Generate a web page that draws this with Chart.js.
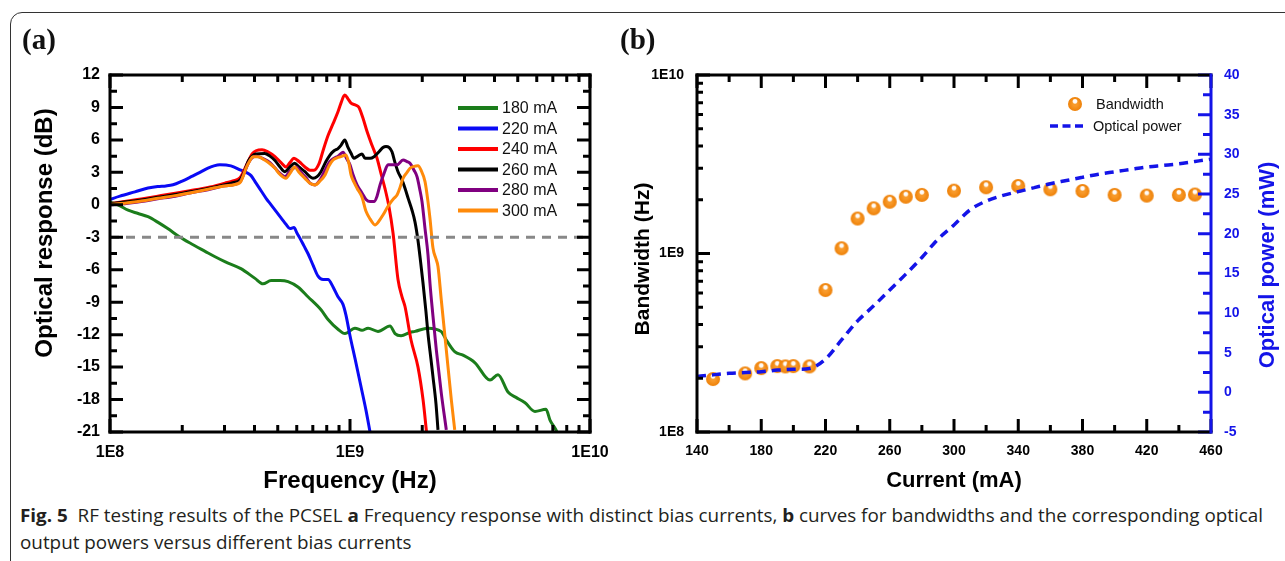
<!DOCTYPE html>
<html>
<head>
<meta charset="utf-8">
<script src="https://cdn.jsdelivr.net/npm/chart.js@4.4.1/dist/chart.umd.min.js"></script>
<style>
html,body{margin:0;padding:0;background:#fff;}
body{width:1285px;height:561px;position:relative;overflow:hidden;}
#frame{position:absolute;left:10px;top:12px;width:1330px;height:620px;border:1px solid #333;border-radius:12px;}
#ca{position:absolute;left:0;top:0;}
#cb{position:absolute;left:620px;top:0;}
.plab{position:absolute;top:25px;font-family:"Liberation Serif","Times New Roman",serif;font-weight:bold;font-size:29px;line-height:1;color:#111;}
#cap{position:absolute;left:20px;top:502px;font-family:"Open Sans",sans-serif;font-size:18px;line-height:27px;color:#231f20;white-space:nowrap;transform-origin:0 0;}
#cap b{font-weight:700;}
#err{position:absolute;left:700px;top:14px;font:11px monospace;color:#c00;white-space:pre;}
</style>
</head>
<body>
<div id="frame"></div>
<canvas id="ca" width="620" height="500"></canvas>
<canvas id="cb" width="665" height="500"></canvas>
<div class="plab" style="left:22px">(a)</div>
<div class="plab" style="left:620px">(b)</div>
<div id="cap"><div id="cap1"><b>Fig. 5</b>&nbsp; RF testing results of the PCSEL <b>a</b> Frequency response with distinct bias currents, <b>b</b> curves for bandwidths and the corresponding optical</div><div>output powers versus different bias currents</div></div>
<div id="err"></div>
<script>
// ---- (a) frequency response, frequency in GHz, response in dB ----
const f180 = [0.100,0.108,0.119,0.131,0.144,0.158,0.174,0.196,0.218,0.249,0.274,0.301,0.351,0.402,0.434,0.469,0.511,0.552,0.607,0.668,0.757,0.810,0.891,0.953,1.049,1.122,1.189,1.308,1.468,1.540,1.632,1.778,1.866,2.113,2.394,2.536,2.738,2.957,3.318,3.831,4.137,4.553,4.917,5.361,5.899,6.556,6.813,7.218,7.356];
const db180 = [0.25,0.0,-0.5,-0.8,-1.1,-1.6,-2.2,-3.0,-3.6,-4.3,-4.8,-5.25,-5.9,-6.8,-7.3,-7.0,-7.0,-7.1,-7.6,-8.5,-9.7,-10.6,-11.5,-11.9,-11.4,-11.6,-11.4,-11.7,-11.2,-11.9,-12.1,-11.8,-11.7,-11.4,-11.7,-12.6,-13.6,-13.9,-14.6,-16.2,-15.7,-17.3,-17.8,-18.3,-19.1,-18.9,-19.9,-20.8,-21.2];

const f220 = [0.100,0.110,0.127,0.144,0.158,0.171,0.183,0.200,0.218,0.237,0.256,0.271,0.287,0.319,0.351,0.369,0.387,0.406,0.426,0.447,0.469,0.492,0.516,0.541,0.562,0.584,0.601,0.619,0.643,0.668,0.702,0.736,0.772,0.810,0.850,0.891,0.935,0.962,1.000,1.049,1.111,1.166,1.212];
const db220 = [0.5,0.8,1.2,1.55,1.7,1.75,1.85,2.2,2.6,3.0,3.4,3.6,3.7,3.6,3.2,3.0,2.7,2.0,1.3,0.6,0.0,-0.6,-1.2,-1.8,-2.2,-2.1,-2.6,-3.1,-3.8,-4.5,-5.6,-6.6,-6.9,-6.9,-7.6,-8.5,-9.2,-10.2,-12.1,-14.2,-16.8,-19.0,-21.0];

const f240 = [0.100,0.115,0.135,0.158,0.187,0.215,0.256,0.301,0.325,0.348,0.362,0.376,0.391,0.406,0.430,0.455,0.487,0.516,0.541,0.562,0.584,0.613,0.649,0.681,0.708,0.743,0.772,0.810,0.850,0.891,0.917,0.951,0.981,1.010,1.059,1.090,1.133,1.177,1.235,1.296,1.346,1.399,1.454,1.511,1.585,1.647,1.695,1.796,1.920,2.015,2.084];
const db240 = [0.1,0.3,0.55,0.8,1.07,1.3,1.6,2.0,2.2,2.5,3.2,4.0,4.7,5.0,5.1,4.9,4.45,3.9,3.5,3.9,4.3,4.0,3.5,3.2,3.2,3.8,5.0,6.4,7.5,8.6,9.4,10.15,9.8,9.4,9.2,9.0,8.0,6.8,5.5,4.3,2.9,1.5,-0.2,-2.6,-6.9,-8.5,-9.4,-12.5,-15.0,-18.0,-21.0];

const f260 = [0.100,0.115,0.135,0.158,0.187,0.215,0.256,0.301,0.325,0.348,0.362,0.376,0.391,0.406,0.441,0.464,0.487,0.511,0.536,0.562,0.588,0.613,0.649,0.681,0.701,0.729,0.757,0.794,0.825,0.858,0.891,0.917,0.951,0.981,1.010,1.039,1.070,1.122,1.155,1.212,1.259,1.321,1.372,1.413,1.454,1.496,1.540,1.585,1.647,1.695,1.753,1.813,1.866,1.920,1.967,2.015,2.073,2.113,2.175,2.217,2.282,2.326];
const db260 = [0.1,0.25,0.45,0.7,0.95,1.2,1.5,1.85,2.05,2.3,3.0,4.0,4.5,4.7,4.75,4.5,4.1,3.5,3.06,3.5,3.84,3.5,3.06,2.6,2.45,2.6,3.06,4.0,4.6,5.0,5.2,5.5,6.0,5.3,4.76,4.3,4.45,4.7,4.3,4.3,4.45,4.9,5.3,5.4,5.3,4.9,3.9,3.06,2.3,1.53,0.5,-0.5,-1.6,-3.3,-5.2,-7.25,-9.9,-11.9,-14.3,-15.9,-18.4,-20.8];

const f280 = [0.100,0.115,0.135,0.158,0.187,0.215,0.256,0.301,0.348,0.362,0.376,0.391,0.406,0.441,0.464,0.487,0.511,0.536,0.562,0.596,0.625,0.656,0.681,0.715,0.750,0.787,0.825,0.858,0.891,0.935,0.972,1.000,1.029,1.070,1.122,1.166,1.212,1.259,1.296,1.334,1.386,1.440,1.496,1.570,1.663,1.728,1.778,1.848,1.902,1.958,1.995,2.054,2.113,2.154,2.217,2.289,2.401,2.519];
const db280 = [0.0,0.1,0.3,0.55,0.8,1.1,1.4,1.75,2.1,2.9,3.8,4.35,4.5,4.2,3.9,3.4,2.9,2.6,3.1,3.5,3.0,2.5,2.0,1.84,2.3,3.2,4.0,4.3,4.5,4.85,4.2,3.7,2.8,1.84,1.1,0.5,0.3,0.3,0.8,1.84,2.9,3.7,3.7,3.7,4.14,4.0,3.84,3.2,2.6,1.3,0.3,-2.2,-4.6,-7.25,-10.3,-13.4,-17.4,-20.8];

const f300 = [0.100,0.115,0.135,0.158,0.187,0.215,0.256,0.301,0.348,0.358,0.369,0.383,0.394,0.414,0.441,0.464,0.486,0.511,0.541,0.562,0.588,0.613,0.649,0.681,0.715,0.750,0.787,0.818,0.850,0.883,0.917,0.962,0.990,1.010,1.039,1.070,1.122,1.166,1.212,1.271,1.321,1.372,1.426,1.468,1.525,1.570,1.616,1.663,1.728,1.778,1.848,1.920,1.977,2.054,2.113,2.154,2.217,2.282,2.326,2.401,2.519,2.643,2.731];
const db300 = [0.05,0.15,0.35,0.6,0.85,1.1,1.44,1.75,2.05,2.6,3.4,4.1,4.45,4.45,4.14,3.8,3.4,2.8,2.45,2.9,3.5,3.0,2.45,2.0,1.84,2.2,2.76,3.6,4.14,4.35,4.45,4.6,3.8,2.76,2.1,1.53,0.7,-0.6,-1.3,-1.86,-1.5,-0.94,-0.3,0.14,0.6,0.9,1.6,2.45,3.0,3.38,3.55,3.6,3.2,2.14,0.3,-1.25,-4.0,-5.0,-5.7,-8.8,-13.4,-18.0,-20.8];

const thresholdDb = -3;
const freqMin = 1e8, freqMax = 1e10;
const decadeValues = [1e8, 1e9, 1e10];
const decadeLabels = ['1E8', '1E9', '1E10'];

// ---- (b) bandwidth and optical power vs current ----
const bwCurrent = [150,170,180,190,195,200,210,220,230,240,250,260,270,280,300,320,340,360,380,400,420,440,450];
const bwHz = [1.98e8,2.13e8,2.28e8,2.34e8,2.33e8,2.34e8,2.33e8,6.24e8,1.07e9,1.57e9,1.79e9,1.95e9,2.08e9,2.13e9,2.25e9,2.35e9,2.39e9,2.29e9,2.24e9,2.13e9,2.11e9,2.13e9,2.14e9];
const powCurrent = [140,150,160,170,180,190,200,210,220,230,240,250,260,270,280,290,300,310,320,330,340,350,360,370,380,390,400,410,420,430,440,450,460];
const powMw = [2.0,2.2,2.4,2.5,2.6,2.8,2.9,3.0,4.2,6.6,9.0,10.9,12.9,14.9,17.0,19.3,21.1,23.0,24.1,24.8,25.3,25.8,26.3,26.7,27.1,27.5,27.8,28.1,28.4,28.6,28.8,29.1,29.4];

const FONT = '"Liberation Sans", Arial, sans-serif';
const AXBLUE = '#1414e8';
Chart.defaults.font.family = FONT;

const errors = [];
function report(msg) {
  errors.push(msg);
  document.getElementById('err').textContent = errors.join('\n');
}

const decadeLabel = v => {
  for (let i = 0; i < decadeValues.length; i++) {
    if (Math.abs(Math.log10(decadeValues[i]) - Math.log10(v)) < 1e-6) return decadeLabels[i];
  }
  return '';
};

// tick positions along an axis: [value, isMajor]
function markValues(lo, hi, step) {
  const out = [];
  if (step === 'log') {
    const e0 = Math.floor(Math.log10(lo)), e1 = Math.ceil(Math.log10(hi));
    for (let e = e0; e <= e1; e++) {
      for (let k = 1; k < 10; k++) {
        const v = k * Math.pow(10, e);
        if (v >= lo * 0.9999 && v <= hi * 1.0001) out.push([v, k === 1]);
      }
    }
  } else {
    const n = Math.round((hi - lo) / (step / 2));
    for (let i = 0; i <= n; i++) out.push([lo + i * step / 2, i % 2 === 0]);
  }
  return out;
}

// frame and inward tick marks; positions come from the chart scales
function frameTicks(marks, edges) {
  return {
    id: 'frameTicks',
    afterDraw(chart) {
      const ctx = chart.ctx, A = chart.chartArea;
      ctx.save();
      ctx.setLineDash([]);
      ctx.lineCap = 'butt';
      ctx.lineWidth = 3;
      let drawn = 0;
      for (let mi = 0; mi < marks.length; mi++) {
        const m = marks[mi];
        try {
          const s = chart.scales[m.axis];
          const vals = markValues(m.lo, m.hi, m.step);
          ctx.strokeStyle = m.color;
          ctx.beginPath();
          for (let i = 0; i < vals.length; i++) {
            const p = s.getPixelForValue(vals[i][0]);
            const len = vals[i][1] ? m.major : m.minor;
            for (let si = 0; si < m.sides.length; si++) {
              const side = m.sides[si];
              if (side === 'bottom') { ctx.moveTo(p, A.bottom); ctx.lineTo(p, A.bottom - len); }
              else if (side === 'top') { ctx.moveTo(p, A.top); ctx.lineTo(p, A.top + len); }
              else if (side === 'left') { ctx.moveTo(A.left, p); ctx.lineTo(A.left + len, p); }
              else if (side === 'right') { ctx.moveTo(A.right, p); ctx.lineTo(A.right - len, p); }
              drawn++;
            }
          }
          ctx.stroke();
        } catch (e) {
          report(m.axis + ': ' + e.message);
        }
      }
      if (drawn === 0) report('no tick marks drawn');
      const h = 1.5;
      for (let i = 0; i < edges.length; i++) {
        const side = edges[i][0];
        ctx.strokeStyle = edges[i][1];
        ctx.beginPath();
        if (side === 'top') { ctx.moveTo(A.left - h, A.top); ctx.lineTo(A.right + h, A.top); }
        if (side === 'bottom') { ctx.moveTo(A.left - h, A.bottom); ctx.lineTo(A.right + h, A.bottom); }
        if (side === 'left') { ctx.moveTo(A.left, A.top - h); ctx.lineTo(A.left, A.bottom + h); }
        if (side === 'right') { ctx.moveTo(A.right, A.top - h); ctx.lineTo(A.right, A.bottom + h); }
        ctx.stroke();
      }
      ctx.restore();
    }
  };
}

function axisTitles(items) {
  return {
    id: 'axisTitles',
    afterDraw(chart) {
      const ctx = chart.ctx;
      items.forEach(t => {
        ctx.save();
        ctx.translate(t.x, t.y);
        ctx.rotate(t.rot || 0);
        ctx.font = 'bold ' + t.size + 'px ' + FONT;
        ctx.fillStyle = t.color || '#000';
        ctx.textAlign = 'center';
        ctx.textBaseline = 'middle';
        ctx.fillText(t.text, 0, 0);
        ctx.restore();
      });
    }
  };
}

const legendA = {
  id: 'legendA',
  afterDraw(chart) {
    const ctx = chart.ctx;
    ctx.save();
    ctx.font = '16px ' + FONT;
    ctx.textBaseline = 'middle';
    ctx.fillStyle = '#111';
    let k = 0;
    chart.data.datasets.forEach(ds => {
      if (!ds.inLegend) return;
      const y = 108 + k * 20.5;
      ctx.strokeStyle = ds.borderColor;
      ctx.lineWidth = 4;
      ctx.beginPath(); ctx.moveTo(458, y); ctx.lineTo(498, y); ctx.stroke();
      ctx.fillText(ds.label, 502, y + 1);
      k++;
    });
    ctx.restore();
  }
};

function makeBall(r) {
  const c = document.createElement('canvas');
  const s = Math.ceil(r * 2 + 2);
  c.width = c.height = s;
  const g = c.getContext('2d');
  const cx = s / 2;
  const grd = g.createRadialGradient(cx, cx, r * 0.3, cx, cx, r);
  grd.addColorStop(0, '#f89a2a');
  grd.addColorStop(1, '#ee8108');
  g.fillStyle = grd;
  g.beginPath(); g.arc(cx, cx, r, 0, Math.PI * 2); g.fill();
  const hl = g.createRadialGradient(cx, cx - r * 0.38, 0, cx, cx - r * 0.38, r * 0.42);
  hl.addColorStop(0, 'rgba(255,255,255,1)');
  hl.addColorStop(0.6, 'rgba(255,255,255,0.95)');
  hl.addColorStop(1, 'rgba(255,255,255,0)');
  g.fillStyle = hl;
  g.beginPath(); g.arc(cx, cx - r * 0.38, r * 0.42, 0, Math.PI * 2); g.fill();
  return c;
}
const ball = makeBall(7);

const legendB = {
  id: 'legendB',
  afterDraw(chart) {
    const ctx = chart.ctx;
    const ds = chart.data.datasets;
    ctx.save();
    ctx.drawImage(ball, 455 - ball.width / 2, 104 - ball.height / 2);
    ctx.font = '14.5px ' + FONT;
    ctx.fillStyle = '#111';
    ctx.textBaseline = 'middle';
    ctx.fillText(ds[1].label, 476, 105);
    ctx.strokeStyle = ds[0].borderColor;
    ctx.lineWidth = 3.5;
    ctx.setLineDash([8, 4.5]);
    ctx.beginPath(); ctx.moveTo(430, 126); ctx.lineTo(466, 126); ctx.stroke();
    ctx.setLineDash([]);
    ctx.fillText(ds[0].label, 473, 127);
    ctx.restore();
  }
};

// ---------- chart (a) ----------
const seriesA = [
  { label: '180 mA', color: '#1b7d1b', f: f180, d: db180 },
  { label: '220 mA', color: '#0a0af5', f: f220, d: db220 },
  { label: '240 mA', color: '#ff0000', f: f240, d: db240 },
  { label: '260 mA', color: '#000000', f: f260, d: db260 },
  { label: '280 mA', color: '#800080', f: f280, d: db280 },
  { label: '300 mA', color: '#ff8a0a', f: f300, d: db300 }
];
const dsA = seriesA.map((s, i) => ({
  label: s.label,
  inLegend: true,
  data: s.f.map((g, j) => ({ x: g * 1e9, y: s.d[j] })),
  borderColor: s.color,
  borderWidth: 3,
  pointRadius: 0,
  cubicInterpolationMode: 'monotone',
  order: seriesA.length - i
}));
dsA.push({
  label: '-3 dB',
  inLegend: false,
  data: [{ x: freqMin, y: thresholdDb }, { x: freqMax, y: thresholdDb }],
  borderColor: '#888888',
  borderWidth: 3,
  borderDash: [9, 7],
  pointRadius: 0,
  order: -1
});

const tickFontA = { family: FONT, size: 16, weight: 'bold' };
try {
new Chart(document.getElementById('ca'), {
  type: 'line',
  data: { datasets: dsA },
  options: {
    responsive: false,
    animation: false,
    layout: { padding: { left: 0, top: 75, right: 30, bottom: 0 } },
    plugins: { legend: { display: false }, tooltip: { enabled: false } },
    scales: {
      x: {
        type: 'logarithmic', min: freqMin, max: freqMax,
        grid: { display: false, drawTicks: false }, border: { display: false },
        ticks: { autoSkip: false, maxRotation: 0, padding: 11, color: '#000', font: tickFontA, callback: v => decadeLabel(v) },
        afterFit: s => { s.height = 68; }
      },
      y: {
        min: -21, max: 12,
        grid: { display: false, drawTicks: false }, border: { display: false },
        ticks: { stepSize: 3, padding: 10, color: '#000', font: tickFontA },
        afterFit: s => { s.width = 110; }
      }
    }
  },
  plugins: [
    axisTitles([
      { text: 'Frequency (Hz)', x: 350, y: 481, size: 24 },
      { text: 'Optical response (dB)', x: 45, y: 233, size: 24, rot: -Math.PI / 2 }
    ]),
    legendA,
    frameTicks(
      [
        { axis: 'x', lo: freqMin, hi: freqMax, step: 'log', sides: ['bottom', 'top'], major: 13, minor: 7, color: '#000' },
        { axis: 'y', lo: -21, hi: 12, step: 3, sides: ['left', 'right'], major: 13, minor: 7, color: '#000' }
      ],
      [['top', '#000'], ['bottom', '#000'], ['left', '#000'], ['right', '#000']]
    )
  ]
});
} catch (e) { report('chart a: ' + e.message); }

// ---------- chart (b) ----------
const tickFontB = { family: FONT, size: 14, weight: 'bold' };
try {
new Chart(document.getElementById('cb'), {
  type: 'line',
  data: {
    datasets: [
      {
        label: 'Optical power',
        yAxisID: 'yP',
        data: powCurrent.map((c, i) => ({ x: c, y: powMw[i] })),
        borderColor: AXBLUE,
        borderWidth: 3.5,
        borderDash: [9, 6],
        pointRadius: 0,
        cubicInterpolationMode: 'monotone'
      },
      {
        label: 'Bandwidth',
        yAxisID: 'y',
        data: bwCurrent.map((c, i) => ({ x: c, y: bwHz[i] })),
        showLine: false,
        pointStyle: ball,
        pointRadius: 7
      }
    ]
  },
  options: {
    responsive: false,
    animation: false,
    layout: { padding: { left: 0, top: 75, right: 0, bottom: 0 } },
    plugins: { legend: { display: false }, tooltip: { enabled: false } },
    scales: {
      x: {
        type: 'linear', min: 140, max: 460,
        grid: { display: false, drawTicks: false }, border: { display: false },
        ticks: { stepSize: 40, padding: 11, color: '#000', font: tickFontB, maxRotation: 0 },
        afterFit: s => { s.height = 68; }
      },
      y: {
        type: 'logarithmic', position: 'left', min: 1e8, max: 1e10,
        grid: { display: false, drawTicks: false }, border: { display: false },
        ticks: { autoSkip: false, padding: 13, color: '#000', font: tickFontB, callback: v => decadeLabel(v) },
        afterFit: s => { s.width = 77; }
      },
      yP: {
        type: 'linear', position: 'right', min: -5, max: 40,
        grid: { display: false, drawTicks: false }, border: { display: false },
        ticks: { stepSize: 5, padding: 13, color: AXBLUE, font: tickFontB },
        afterFit: s => { s.width = 74; }
      }
    }
  },
  plugins: [
    axisTitles([
      { text: 'Current (mA)', x: 334, y: 481, size: 22 },
      { text: 'Bandwidth (Hz)', x: 23, y: 259, size: 21, rot: -Math.PI / 2 },
      { text: 'Optical power (mW)', x: 648, y: 265, size: 22, rot: -Math.PI / 2, color: AXBLUE }
    ]),
    legendB,
    frameTicks(
      [
        { axis: 'x', lo: 140, hi: 460, step: 40, sides: ['bottom', 'top'], major: 13, minor: 7, color: '#000' },
        { axis: 'y', lo: 1e8, hi: 1e10, step: 'log', sides: ['left'], major: 13, minor: 6, color: '#000' },
        { axis: 'yP', lo: -5, hi: 40, step: 5, sides: ['right'], major: 13, minor: 8, color: AXBLUE }
      ],
      [['top', '#000'], ['bottom', '#000'], ['left', '#000'], ['right', AXBLUE]]
    )
  ]
});
} catch (e) { report('chart b: ' + e.message); }

// fit caption line width to the figure
function fitCaption() {
  const cap = document.getElementById('cap');
  cap.style.transform = 'none';
  const w = document.getElementById('cap1').getBoundingClientRect().width;
  cap.style.transform = 'scaleX(' + (1243 / w) + ')';
}
fitCaption();
if (document.fonts) document.fonts.ready.then(fitCaption);
</script>
</body>
</html>
